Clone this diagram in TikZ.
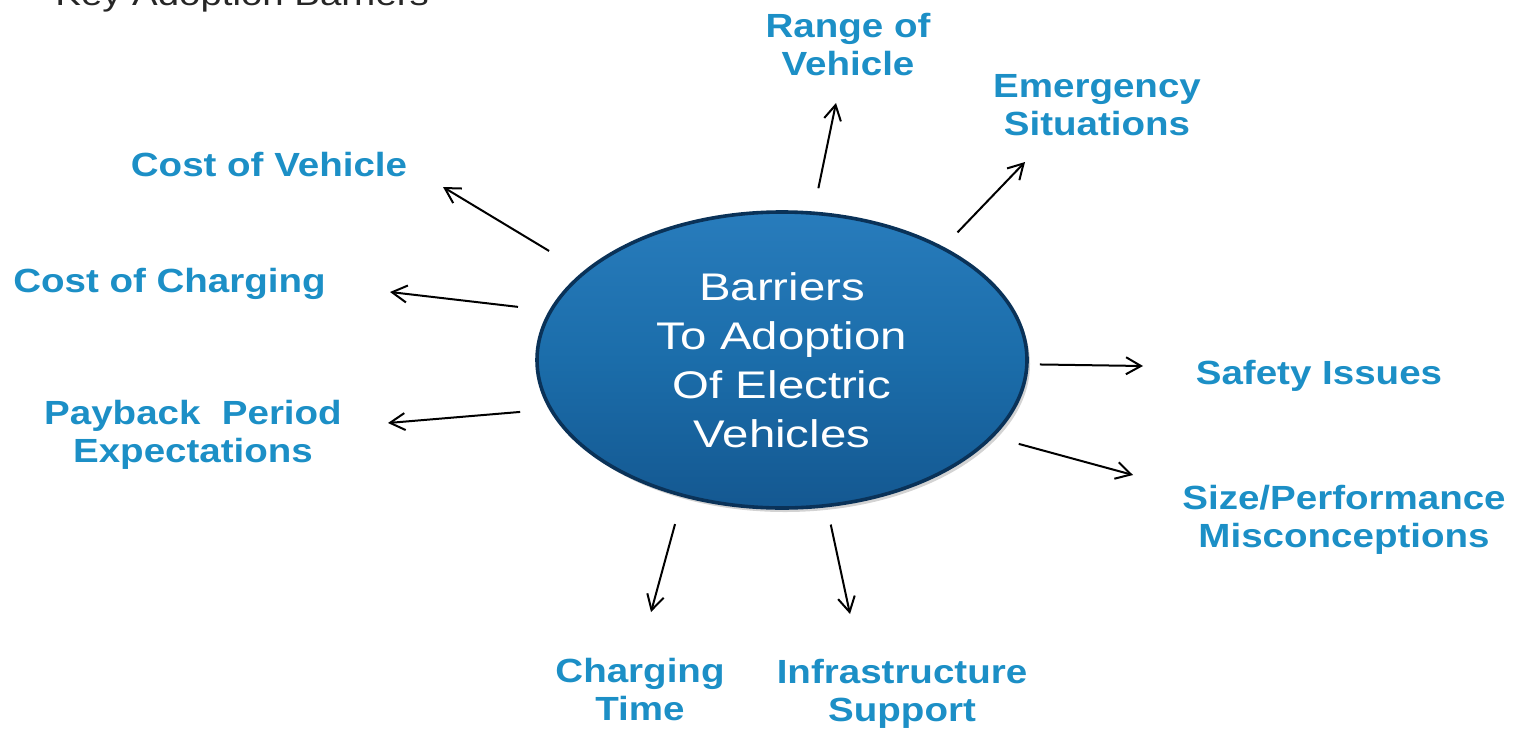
\documentclass[tikz,border=0pt]{standalone}
\usepackage{fontspec}
\usepackage{tikz}
\usetikzlibrary{shapes,arrows.meta,positioning,shadows,calc}
\setmainfont{Liberation Sans}
\newfontfamily\lblfont[FakeStretch=1.15]{Liberation Sans}
\newfontfamily\corefont[FakeStretch=1.23]{Liberation Sans}
\newfontfamily\ttlfont[FakeStretch=1.2]{Liberation Sans}
\definecolor{lblblue}{RGB}{28,143,198}
\definecolor{coreTop}{RGB}{40,124,188}
\definecolor{coreMid}{RGB}{27,109,170}
\definecolor{coreBot}{RGB}{20,88,145}
\definecolor{coreEdge}{RGB}{10,50,88}

\begin{document}
\begin{tikzpicture}[x=0.5pt, y=-0.5pt,
    lbl/.style={align=center, inner sep=0pt, text=lblblue, font=\lblfont\bfseries\fontsize{16.75}{19}\selectfont},
    core/.style={draw=coreEdge, line width=1.8pt, ellipse, inner sep=0pt, minimum width=245pt, minimum height=148pt,
        top color=coreTop, bottom color=coreBot, middle color=coreMid,
        drop shadow={shadow xshift=1.5pt, shadow yshift=-2pt, opacity=0.35},
        align=center, text=white, font=\corefont\fontsize{19.25}{24.5}\selectfont},
    arrow/.style={-{Straight Barb[length=7.5pt, width=8.5pt]}, line width=1pt, black}
]
\useasboundingbox (0,0) rectangle (1513,728);

% Title (cut at the top edge)
\node[anchor=base west, inner sep=0pt, text=black!85, font=\ttlfont\fontsize{16}{19}\selectfont] (ttl) at (55,5) {Key Adoption Barriers};

% Center ellipse
\node[core] (ctr) at (782,360) {Barriers\\To Adoption\\Of Electric\\Vehicles};

% Barriers
\node[lbl] (rv) at (848,44.5) {Range of\\Vehicle};
\node[lbl] (em) at (1097,105) {Emergency\\Situations};
\node[lbl] (cv) at (269,165) {Cost of Vehicle};
\node[lbl] (cc) at (169.5,283.5) {Cost of Charging};
\node[lbl] (pb) at (193,434.5) {Payback\ \ Period\\Expectations};
\node[lbl] (sf) at (1319,375.5) {Safety Issues};
\node[lbl] (sz) at (1344,520) {Size/Performance\\Misconceptions};
\node[lbl] (ct) at (640,689.5) {Charging\\Time};
\node[lbl] (it) at (902,694) {Infrastructure\\Support};

% Arrow tips
\coordinate (rvTip) at (836,103);
\coordinate (emTip) at (1025,162);
\coordinate (cvTip) at (443,187);
\coordinate (ccTip) at (390,292);
\coordinate (pbTip) at (388,423);
\coordinate (sfTip) at (1143,366);
\coordinate (szTip) at (1133,475);
\coordinate (ctTip) at (651,612);
\coordinate (itTip) at (850,614);

% Arrows
\draw[arrow, shorten <=11.85pt] (ctr.78.5) -- (rvTip);
\draw[arrow, shorten <=10pt] (ctr.35.35) -- (emTip);
\draw[arrow, shorten <=19.8pt] (ctr.156.65) -- (cvTip);
\draw[arrow, shorten <=15.65pt] (ctr.168.9) -- (ccTip);
\draw[arrow, shorten <=14.5pt] (ctr.192.46) -- (pbTip);
\draw[arrow, shorten <=5.6pt] (ctr.-1.4) -- (sfTip);
\draw[arrow, shorten <=13pt] (ctr.-20.32) -- (szTip);
\draw[arrow, shorten <=14pt] (ctr.234.86) -- (ctTip);
\draw[arrow, shorten <=8.85pt] (ctr.-73.56) -- (itTip);
\end{tikzpicture}
\end{document}
